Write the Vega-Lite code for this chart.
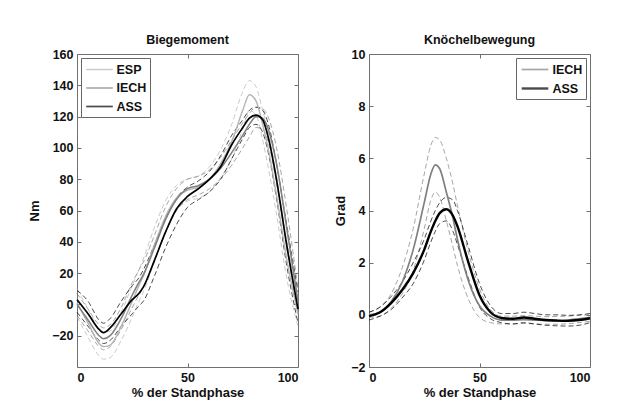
{
  "$schema": "https://vega.github.io/schema/vega-lite/v6.json",
  "background": "white",
  "padding": {"left": 28, "top": 33, "right": 5, "bottom": 5},
  "spacing": 32,
  "resolve": {"scale": {"color": "independent", "strokeWidth": "independent"}, "legend": {"color": "independent", "strokeWidth": "independent"}},
  "config": {
    "font": "Liberation Sans",
    "view": {"stroke": "#707070", "strokeWidth": 1},
    "axis": {"grid": false, "domain": false, "tickColor": "#707070", "tickSize": -4, "labelFontSize": 12.5, "labelFontWeight": "bold", "labelColor": "#111111", "titleFontSize": 13, "titleFontWeight": "bold", "titleColor": "#111111"},
    "title": {"fontSize": 12.5, "fontWeight": "bold", "color": "#111111", "offset": 2},
    "legend": {"title": null, "strokeColor": "#666666", "fillColor": "white", "padding": 3.5, "symbolType": "M-1.9,0L1.9,0", "symbolSize": 196, "symbolOffset": 7, "symbolFillColor": "transparent", "labelFontSize": 12.5, "labelFontWeight": "bold", "labelColor": "#111111", "labelOffset": 9, "rowPadding": 3.5, "offset": 4}
  },
  "datasets": {
    "bieg": [
      {"s":"ESP","x":0,"m":1,"lo":-8,"hi":10},
      {"s":"ESP","x":5,"m":-12,"lo":-21,"hi":-3},
      {"s":"ESP","x":10,"m":-25,"lo":-33,"hi":-16},
      {"s":"ESP","x":12,"m":-27,"lo":-35,"hi":-18},
      {"s":"ESP","x":15,"m":-26,"lo":-34,"hi":-17},
      {"s":"ESP","x":20,"m":-14,"lo":-23,"hi":-5},
      {"s":"ESP","x":25,"m":2,"lo":-8,"hi":12},
      {"s":"ESP","x":28,"m":12,"lo":2,"hi":22},
      {"s":"ESP","x":30,"m":18,"lo":8,"hi":29},
      {"s":"ESP","x":35,"m":38,"lo":27,"hi":49},
      {"s":"ESP","x":40,"m":56,"lo":46,"hi":66},
      {"s":"ESP","x":45,"m":68,"lo":60,"hi":76},
      {"s":"ESP","x":50,"m":73,"lo":66,"hi":80},
      {"s":"ESP","x":55,"m":75,"lo":68,"hi":82},
      {"s":"ESP","x":60,"m":80,"lo":72,"hi":88},
      {"s":"ESP","x":65,"m":90,"lo":81,"hi":99},
      {"s":"ESP","x":70,"m":104,"lo":93,"hi":115},
      {"s":"ESP","x":75,"m":124,"lo":112,"hi":136},
      {"s":"ESP","x":78,"m":134,"lo":124,"hi":143},
      {"s":"ESP","x":81,"m":130,"lo":121,"hi":139},
      {"s":"ESP","x":84,"m":115,"lo":105,"hi":124},
      {"s":"ESP","x":87,"m":96,"lo":84,"hi":107},
      {"s":"ESP","x":90,"m":72,"lo":60,"hi":84},
      {"s":"ESP","x":95,"m":28,"lo":16,"hi":40},
      {"s":"ESP","x":100,"m":-6,"lo":-14,"hi":4},
      {"s":"IECH","x":0,"m":0,"lo":-7,"hi":7},
      {"s":"IECH","x":5,"m":-10,"lo":-17,"hi":-3},
      {"s":"IECH","x":10,"m":-20,"lo":-27,"hi":-13},
      {"s":"IECH","x":12,"m":-22,"lo":-29,"hi":-15},
      {"s":"IECH","x":15,"m":-20,"lo":-27,"hi":-13},
      {"s":"IECH","x":20,"m":-9,"lo":-16,"hi":-2},
      {"s":"IECH","x":25,"m":6,"lo":-2,"hi":14},
      {"s":"IECH","x":28,"m":14,"lo":6,"hi":22},
      {"s":"IECH","x":30,"m":19,"lo":11,"hi":27},
      {"s":"IECH","x":35,"m":36,"lo":28,"hi":44},
      {"s":"IECH","x":40,"m":54,"lo":46,"hi":62},
      {"s":"IECH","x":45,"m":67,"lo":60,"hi":74},
      {"s":"IECH","x":50,"m":74,"lo":67,"hi":80},
      {"s":"IECH","x":55,"m":76,"lo":70,"hi":82},
      {"s":"IECH","x":60,"m":80,"lo":74,"hi":86},
      {"s":"IECH","x":65,"m":87,"lo":80,"hi":94},
      {"s":"IECH","x":70,"m":97,"lo":89,"hi":105},
      {"s":"IECH","x":75,"m":108,"lo":100,"hi":116},
      {"s":"IECH","x":78,"m":115,"lo":107,"hi":122},
      {"s":"IECH","x":81,"m":120,"lo":113,"hi":126},
      {"s":"IECH","x":84,"m":119,"lo":112,"hi":125},
      {"s":"IECH","x":87,"m":110,"lo":101,"hi":118},
      {"s":"IECH","x":90,"m":92,"lo":80,"hi":102},
      {"s":"IECH","x":95,"m":48,"lo":36,"hi":60},
      {"s":"IECH","x":100,"m":2,"lo":-7,"hi":10},
      {"s":"ASS","x":0,"m":3,"lo":-5,"hi":9},
      {"s":"ASS","x":5,"m":-6,"lo":-14,"hi":2},
      {"s":"ASS","x":10,"m":-16,"lo":-23,"hi":-10},
      {"s":"ASS","x":12,"m":-18,"lo":-25,"hi":-12},
      {"s":"ASS","x":15,"m":-15,"lo":-23,"hi":-9},
      {"s":"ASS","x":20,"m":-6,"lo":-14,"hi":2},
      {"s":"ASS","x":25,"m":3,"lo":-6,"hi":12},
      {"s":"ASS","x":28,"m":7,"lo":-1,"hi":17},
      {"s":"ASS","x":30,"m":11,"lo":2,"hi":22},
      {"s":"ASS","x":35,"m":28,"lo":18,"hi":38},
      {"s":"ASS","x":40,"m":46,"lo":36,"hi":55},
      {"s":"ASS","x":45,"m":61,"lo":51,"hi":68},
      {"s":"ASS","x":50,"m":69,"lo":62,"hi":75},
      {"s":"ASS","x":55,"m":74,"lo":67,"hi":79},
      {"s":"ASS","x":60,"m":80,"lo":72,"hi":85},
      {"s":"ASS","x":65,"m":88,"lo":80,"hi":95},
      {"s":"ASS","x":70,"m":102,"lo":93,"hi":108},
      {"s":"ASS","x":75,"m":113,"lo":106,"hi":118},
      {"s":"ASS","x":78,"m":119,"lo":113,"hi":124},
      {"s":"ASS","x":81,"m":121,"lo":115,"hi":126},
      {"s":"ASS","x":84,"m":118,"lo":110,"hi":124},
      {"s":"ASS","x":87,"m":104,"lo":94,"hi":113},
      {"s":"ASS","x":90,"m":82,"lo":70,"hi":92},
      {"s":"ASS","x":95,"m":37,"lo":24,"hi":50},
      {"s":"ASS","x":100,"m":-3,"lo":-12,"hi":8}
    ],
    "knoe": [
      {"s":"IECH","x":0,"m":0.0,"lo":-0.1,"hi":0.1},
      {"s":"IECH","x":5,"m":0.1,"lo":-0.05,"hi":0.3},
      {"s":"IECH","x":10,"m":0.5,"lo":0.25,"hi":0.8},
      {"s":"IECH","x":15,"m":1.25,"lo":0.8,"hi":1.8},
      {"s":"IECH","x":20,"m":2.5,"lo":1.7,"hi":3.3},
      {"s":"IECH","x":25,"m":4.3,"lo":3.3,"hi":5.4},
      {"s":"IECH","x":28,"m":5.4,"lo":4.4,"hi":6.5},
      {"s":"IECH","x":30,"m":5.75,"lo":4.7,"hi":6.8},
      {"s":"IECH","x":32,"m":5.6,"lo":4.5,"hi":6.7},
      {"s":"IECH","x":35,"m":4.7,"lo":3.6,"hi":6.0},
      {"s":"IECH","x":38,"m":3.7,"lo":2.6,"hi":5.0},
      {"s":"IECH","x":40,"m":2.9,"lo":1.9,"hi":4.2},
      {"s":"IECH","x":45,"m":1.3,"lo":0.6,"hi":2.4},
      {"s":"IECH","x":50,"m":0.35,"lo":-0.1,"hi":1.0},
      {"s":"IECH","x":55,"m":-0.05,"lo":-0.3,"hi":0.2},
      {"s":"IECH","x":60,"m":-0.2,"lo":-0.35,"hi":-0.05},
      {"s":"IECH","x":65,"m":-0.2,"lo":-0.35,"hi":-0.05},
      {"s":"IECH","x":70,"m":-0.18,"lo":-0.33,"hi":-0.03},
      {"s":"IECH","x":75,"m":-0.2,"lo":-0.35,"hi":-0.05},
      {"s":"IECH","x":80,"m":-0.22,"lo":-0.36,"hi":-0.07},
      {"s":"IECH","x":85,"m":-0.22,"lo":-0.36,"hi":-0.06},
      {"s":"IECH","x":90,"m":-0.2,"lo":-0.34,"hi":-0.05},
      {"s":"IECH","x":95,"m":-0.15,"lo":-0.3,"hi":-0.02},
      {"s":"IECH","x":100,"m":-0.1,"lo":-0.25,"hi":0.0},
      {"s":"ASS","x":0,"m":-0.05,"lo":-0.2,"hi":0.1},
      {"s":"ASS","x":5,"m":0.1,"lo":-0.05,"hi":0.3},
      {"s":"ASS","x":10,"m":0.45,"lo":0.2,"hi":0.7},
      {"s":"ASS","x":15,"m":0.95,"lo":0.65,"hi":1.25},
      {"s":"ASS","x":20,"m":1.6,"lo":1.2,"hi":2.0},
      {"s":"ASS","x":25,"m":2.5,"lo":2.1,"hi":2.9},
      {"s":"ASS","x":28,"m":3.2,"lo":2.8,"hi":3.6},
      {"s":"ASS","x":30,"m":3.6,"lo":3.2,"hi":4.0},
      {"s":"ASS","x":32,"m":3.9,"lo":3.5,"hi":4.3},
      {"s":"ASS","x":35,"m":4.05,"lo":3.6,"hi":4.5},
      {"s":"ASS","x":38,"m":3.8,"lo":3.2,"hi":4.4},
      {"s":"ASS","x":40,"m":3.4,"lo":2.7,"hi":4.0},
      {"s":"ASS","x":45,"m":2.0,"lo":1.4,"hi":2.6},
      {"s":"ASS","x":50,"m":0.75,"lo":0.3,"hi":1.2},
      {"s":"ASS","x":55,"m":0.1,"lo":-0.15,"hi":0.35},
      {"s":"ASS","x":60,"m":-0.12,"lo":-0.3,"hi":0.05},
      {"s":"ASS","x":65,"m":-0.15,"lo":-0.35,"hi":0.05},
      {"s":"ASS","x":70,"m":-0.1,"lo":-0.3,"hi":0.1},
      {"s":"ASS","x":75,"m":-0.15,"lo":-0.35,"hi":0.05},
      {"s":"ASS","x":80,"m":-0.2,"lo":-0.4,"hi":0.0},
      {"s":"ASS","x":85,"m":-0.22,"lo":-0.42,"hi":0.0},
      {"s":"ASS","x":90,"m":-0.23,"lo":-0.43,"hi":-0.02},
      {"s":"ASS","x":95,"m":-0.2,"lo":-0.4,"hi":0.0},
      {"s":"ASS","x":100,"m":-0.13,"lo":-0.3,"hi":0.05}
    ]
  },
  "hconcat": [
    {
      "width": 221,
      "height": 313,
      "title": "Biegemoment",
      "data": {"name": "bieg"},
      "layer": [
        {
          "mark": {"type": "line", "strokeDash": [5, 3], "strokeWidth": 1, "interpolate": "monotone", "opacity": 0.7},
          "encoding": {
            "x": {"field": "x", "type": "quantitative", "scale": {"domain": [0, 100], "nice": false}, "axis": {"orient": "top", "values": [0, 50, 100], "labels": false, "title": null}},
            "y": {"field": "lo", "type": "quantitative", "scale": {"domain": [-40, 160], "nice": false}, "axis": {"orient": "right", "values": [-20, 0, 20, 40, 60, 80, 100, 120, 140, 160], "labels": false, "title": null}},
            "color": {"field": "s", "type": "nominal", "scale": {"domain": ["ESP", "IECH", "ASS"], "range": ["#b4b4b4", "#808080", "#000000"]}, "legend": {"orient": "top-left"}},
            "detail": {"field": "s"}
          }
        },
        {
          "mark": {"type": "line", "strokeDash": [5, 3], "strokeWidth": 1, "interpolate": "monotone", "opacity": 0.7},
          "encoding": {
            "x": {"field": "x", "type": "quantitative", "axis": null},
            "y": {"field": "hi", "type": "quantitative", "axis": null},
            "color": {"field": "s", "type": "nominal"}
          }
        },
        {
          "mark": {"type": "line", "interpolate": "monotone"},
          "encoding": {
            "x": {"field": "x", "type": "quantitative", "axis": {"orient": "bottom", "values": [0, 50, 100], "title": "% der Standphase", "labelPadding": 8, "titlePadding": 3}},
            "y": {"field": "m", "type": "quantitative", "axis": {"orient": "left", "values": [-20, 0, 20, 40, 60, 80, 100, 120, 140, 160], "title": "Nm", "labelPadding": 8, "titlePadding": 10}},
            "color": {"field": "s", "type": "nominal"},
            "strokeWidth": {"field": "s", "type": "nominal", "scale": {"domain": ["ESP", "IECH", "ASS"], "range": [1.4, 1.7, 2.4]}}
          }
        }
      ]
    },
    {
      "width": 221,
      "height": 313,
      "title": "Knöchelbewegung",
      "data": {"name": "knoe"},
      "layer": [
        {
          "mark": {"type": "line", "strokeDash": [5, 3], "strokeWidth": 1, "interpolate": "monotone", "opacity": 0.7},
          "encoding": {
            "x": {"field": "x", "type": "quantitative", "scale": {"domain": [0, 100], "nice": false}, "axis": {"orient": "top", "values": [0, 50, 100], "labels": false, "title": null}},
            "y": {"field": "lo", "type": "quantitative", "scale": {"domain": [-2, 10], "nice": false}, "axis": {"orient": "right", "values": [-2, 0, 2, 4, 6, 8, 10], "labels": false, "title": null}},
            "color": {"field": "s", "type": "nominal", "scale": {"domain": ["IECH", "ASS"], "range": ["#808080", "#000000"]}, "legend": {"orient": "top-right"}},
            "detail": {"field": "s"}
          }
        },
        {
          "mark": {"type": "line", "strokeDash": [5, 3], "strokeWidth": 1, "interpolate": "monotone", "opacity": 0.7},
          "encoding": {
            "x": {"field": "x", "type": "quantitative", "axis": null},
            "y": {"field": "hi", "type": "quantitative", "axis": null},
            "color": {"field": "s", "type": "nominal"}
          }
        },
        {
          "mark": {"type": "line", "interpolate": "monotone"},
          "encoding": {
            "x": {"field": "x", "type": "quantitative", "axis": {"orient": "bottom", "values": [0, 50, 100], "title": "% der Standphase", "labelPadding": 8, "titlePadding": 3}},
            "y": {"field": "m", "type": "quantitative", "axis": {"orient": "left", "values": [-2, 0, 2, 4, 6, 8, 10], "title": "Grad", "labelPadding": 8, "titlePadding": 3}},
            "color": {"field": "s", "type": "nominal"},
            "strokeWidth": {"field": "s", "type": "nominal", "scale": {"domain": ["IECH", "ASS"], "range": [1.7, 2.4]}}
          }
        }
      ]
    }
  ]
}
